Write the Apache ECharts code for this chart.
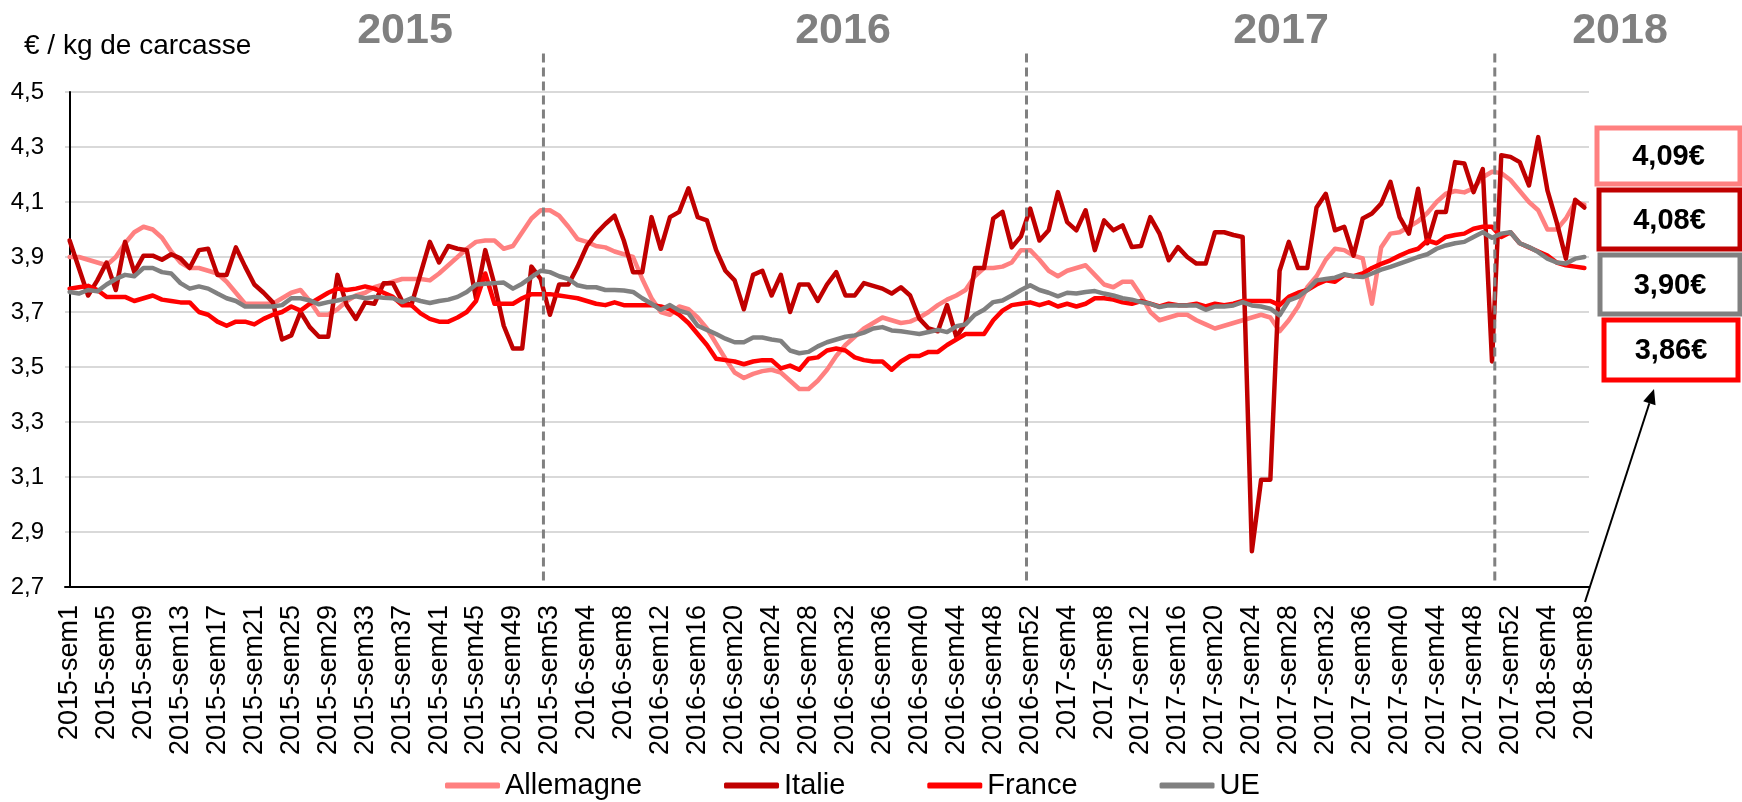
<!DOCTYPE html>
<html><head><meta charset="utf-8">
<script src="https://cdn.jsdelivr.net/npm/echarts/dist/echarts.min.js"></script>
<style>html,body{margin:0;padding:0;background:#fff}#c{width:1742px;height:802px}</style>
</head><body><div id="c"></div>
<script>
// ---- data ----
const yearWeeks = [[2015, 53], [2016, 52], [2017, 52], [2018, 8]];
const categories = [];
yearWeeks.forEach(([y, n]) => { for (let w = 1; w <= n; w++) categories.push(y + '-sem' + w); });

const seriesNames = ['Allemagne', 'Italie', 'France', 'UE'];
const seriesColors = ['#FF8080', '#C00000', '#FF0000', '#808080'];

const allemagne = [
3.90,3.90,3.89,3.88,3.87,3.90,3.95,3.99,4.01,4.00,
3.97,3.92,3.88,3.86,3.86,3.85,3.84,3.81,3.77,3.73,
3.73,3.73,3.73,3.75,3.77,3.78,3.74,3.69,3.69,3.71,
3.74,3.76,3.77,3.79,3.80,3.81,3.82,3.82,3.82,3.815,
3.84,3.87,3.90,3.93,3.955,3.96,3.96,3.93,3.94,3.99,
4.04,4.07,4.07,4.05,4.01,3.965,3.955,3.94,3.935,3.92,
3.91,3.90,3.82,3.75,3.70,3.69,3.72,3.71,3.68,3.64,
3.585,3.53,3.48,3.46,3.475,3.485,3.49,3.48,3.45,3.42,
3.42,3.45,3.49,3.54,3.58,3.61,3.64,3.66,3.68,3.67,
3.66,3.665,3.68,3.70,3.725,3.745,3.76,3.78,3.83,3.86,
3.86,3.865,3.88,3.925,3.925,3.89,3.85,3.83,3.85,3.86,
3.87,3.835,3.80,3.79,3.81,3.81,3.76,3.70,3.67,3.68,
3.69,3.69,3.67,3.655,3.64,3.65,3.66,3.67,3.68,3.69,
3.68,3.63,3.67,3.72,3.79,3.83,3.89,3.93,3.925,3.905,
3.895,3.73,3.935,3.985,3.99,4.01,4.03,4.06,4.10,4.13,
4.14,4.135,4.15,4.19,4.21,4.205,4.18,4.14,4.10,4.07,
4.00,4.00,4.04,4.10,4.09];

const italie = [
3.96,3.86,3.76,3.815,3.88,3.78,3.955,3.845,3.905,3.905,
3.89,3.91,3.895,3.86,3.925,3.93,3.835,3.835,3.935,3.865,
3.80,3.77,3.735,3.60,3.615,3.70,3.645,3.61,3.61,3.835,
3.725,3.675,3.735,3.73,3.805,3.805,3.74,3.725,3.84,3.955,
3.88,3.94,3.93,3.925,3.75,3.925,3.80,3.65,3.567,3.567,
3.865,3.82,3.69,3.80,3.80,3.865,3.94,3.985,4.02,4.05,
3.96,3.845,3.845,4.045,3.93,4.045,4.064,4.15,4.045,4.033,
3.925,3.85,3.815,3.71,3.835,3.85,3.76,3.835,3.70,3.80,
3.80,3.74,3.80,3.845,3.76,3.76,3.805,3.795,3.785,3.767,
3.79,3.76,3.676,3.64,3.63,3.725,3.61,3.66,3.86,3.86,
4.04,4.064,3.935,3.975,4.076,3.96,3.997,4.136,4.027,3.997,
4.07,3.925,4.033,3.997,4.015,3.936,3.94,4.045,3.985,3.888,
3.936,3.90,3.876,3.876,3.99,3.99,3.98,3.973,2.83,3.09,
3.09,3.85,3.955,3.86,3.86,4.08,4.13,3.997,4.01,3.905,
4.04,4.058,4.094,4.173,4.045,3.985,4.148,3.95,4.064,4.064,
4.245,4.24,4.136,4.22,3.52,4.27,4.264,4.245,4.16,4.336,
4.142,4.027,3.894,4.108,4.08];

const france = [
3.785,3.79,3.795,3.78,3.755,3.755,3.755,3.74,3.75,3.76,
3.745,3.74,3.735,3.735,3.70,3.69,3.665,3.65,3.665,3.665,
3.655,3.675,3.69,3.70,3.72,3.705,3.73,3.75,3.77,3.785,
3.78,3.785,3.793,3.785,3.77,3.755,3.725,3.725,3.695,3.675,
3.665,3.665,3.68,3.70,3.74,3.84,3.73,3.73,3.73,3.75,
3.765,3.765,3.765,3.76,3.755,3.75,3.74,3.73,3.725,3.735,
3.725,3.725,3.725,3.725,3.72,3.71,3.69,3.66,3.62,3.58,
3.53,3.525,3.52,3.51,3.52,3.525,3.525,3.495,3.505,3.49,
3.53,3.535,3.56,3.567,3.56,3.535,3.525,3.52,3.52,3.49,
3.52,3.54,3.54,3.555,3.555,3.58,3.60,3.62,3.62,3.62,
3.67,3.705,3.725,3.73,3.735,3.725,3.735,3.72,3.73,3.72,
3.73,3.75,3.75,3.745,3.735,3.73,3.74,3.73,3.72,3.73,
3.725,3.725,3.73,3.72,3.73,3.725,3.73,3.74,3.74,3.74,
3.74,3.725,3.755,3.77,3.78,3.80,3.815,3.81,3.835,3.83,
3.84,3.86,3.875,3.888,3.905,3.92,3.93,3.96,3.95,3.973,
3.98,3.985,4.003,4.01,4.01,3.973,3.99,3.95,3.935,3.92,
3.905,3.88,3.87,3.865,3.86];

const ue = [
3.773,3.767,3.78,3.775,3.80,3.82,3.835,3.83,3.86,3.86,
3.845,3.84,3.805,3.785,3.793,3.785,3.767,3.75,3.74,3.72,
3.72,3.72,3.72,3.725,3.75,3.75,3.742,3.728,3.736,3.742,
3.75,3.757,3.75,3.755,3.752,3.75,3.736,3.75,3.74,3.733,
3.74,3.745,3.755,3.773,3.80,3.803,3.805,3.807,3.785,3.803,
3.827,3.85,3.845,3.83,3.82,3.797,3.79,3.79,3.78,3.78,
3.778,3.773,3.75,3.73,3.708,3.725,3.705,3.695,3.65,3.635,
3.62,3.603,3.59,3.59,3.607,3.607,3.60,3.595,3.56,3.55,
3.555,3.575,3.59,3.60,3.61,3.615,3.625,3.64,3.645,3.633,
3.63,3.625,3.62,3.627,3.635,3.627,3.648,3.655,3.69,3.708,
3.736,3.742,3.76,3.78,3.797,3.78,3.77,3.757,3.77,3.767,
3.773,3.776,3.767,3.76,3.75,3.745,3.736,3.73,3.718,3.724,
3.724,3.724,3.724,3.708,3.72,3.72,3.724,3.736,3.724,3.72,
3.712,3.688,3.742,3.755,3.78,3.815,3.82,3.825,3.837,3.83,
3.827,3.84,3.854,3.864,3.876,3.888,3.90,3.91,3.93,3.942,
3.95,3.955,3.973,3.99,3.97,3.985,3.99,3.95,3.936,3.918,
3.894,3.88,3.876,3.894,3.90];

const yearTitles = ['2015', '2016', '2017', '2018'];
const yearBreaks = [51.3, 103.6, 154.3];          // positions (category index) of the dashed separators
const lastValueLabels = ['4,09€', '4,08€', '3,90€', '3,86€'];
const lastValueColors = ['#FF8080', '#C00000', '#808080', '#FF0000'];
const unitLabel = '€ / kg de carcasse';

// ---- chart ----
const FONT = '"Liberation Sans", Arial, sans-serif';
const chart = echarts.init(document.getElementById('c'), null, { renderer: 'canvas' });
const dataSets = [allemagne, italie, france, ue];

const option = {
  animation: false,
  backgroundColor: '#fff',
  grid: { left: 65, right: 153, top: 92, bottom: 215, containLabel: false, outerBoundsMode: 'none' },
  legend: {
    data: seriesNames,
    left: 440, top: 766,
    itemWidth: 55, itemHeight: 6, itemGap: 82,
    icon: 'roundRect',
    textStyle: { fontFamily: FONT, fontSize: 29, color: '#000' }
  },
  xAxis: [{
    type: 'category', data: categories, boundaryGap: true,
    axisLine: { show: true, lineStyle: { color: '#000', width: 2 } },
    axisTick: { show: false },
    splitLine: { show: false },
    axisLabel: { interval: 3, rotate: 90, margin: 18, fontFamily: FONT, fontSize: 27, color: '#000' }
  }, {
    type: 'value', min: -0.5, max: categories.length - 0.5, show: false
  }],
  yAxis: {
    type: 'value', min: 2.7, max: 4.5, interval: 0.2,
    axisLine: { show: true, lineStyle: { color: '#000', width: 2 } },
    axisTick: { show: false },
    splitLine: { show: true, lineStyle: { color: '#d9d9d9', width: 2 } },
    axisLabel: { margin: 21, fontFamily: FONT, fontSize: 24, color: '#000',
      formatter: v => v.toFixed(1).replace('.', ',') }
  },
  series: seriesNames.map((name, k) => ({
    name, type: 'line', data: dataSets[k], xAxisIndex: 0,
    showSymbol: false, symbol: 'none', smooth: false,
    color: seriesColors[k],
    lineStyle: { color: seriesColors[k], width: 4.5, join: 'round', cap: 'round' },
    itemStyle: { color: seriesColors[k] },
    emphasis: { disabled: true }
  }))
};
chart.setOption(option);

// ---- annotations (computed via the chart's own scales) ----
const graphics = [];
const yTop = chart.convertToPixel({ yAxisIndex: 0 }, 4.64);
const yBot = chart.convertToPixel({ yAxisIndex: 0 }, 2.718);
yearBreaks.forEach(b => {
  const x = chart.convertToPixel({ xAxisIndex: 1 }, b);
  graphics.push({ type: 'line', z: 10, shape: { x1: x, y1: yTop, x2: x, y2: yBot },
    style: { stroke: '#808080', lineWidth: 3, lineDash: [9, 5] } });
});
const titleX = [405, 843, 1281, 1620];
yearTitles.forEach((t, k) => {
  graphics.push({ type: 'text', x: titleX[k], y: 31, z: 10,
    style: { text: t, fill: '#808080', font: 'bold 43px ' + FONT,
      textAlign: 'center', textVerticalAlign: 'middle', align: 'center', verticalAlign: 'middle' } });
});
graphics.push({ type: 'text', x: 24, y: 46, z: 10,
  style: { text: unitLabel, fill: '#000', font: '28px ' + FONT,
    textAlign: 'left', textVerticalAlign: 'middle', align: 'left', verticalAlign: 'middle' } });

const boxes = [[1597, 128, 143, 56], [1599, 190, 141, 59], [1600, 255, 140, 59], [1604, 320, 134, 60]];
boxes.forEach((b, k) => {
  graphics.push({ type: 'rect', z: 10, shape: { x: b[0], y: b[1], width: b[2], height: b[3] },
    style: { fill: '#fff', stroke: lastValueColors[k], lineWidth: 5 } });
  graphics.push({ type: 'text', z: 11, x: b[0] + b[2] / 2, y: b[1] + b[3] / 2 + 1,
    style: { text: lastValueLabels[k], fill: '#000', font: 'bold 29px ' + FONT,
      textAlign: 'center', textVerticalAlign: 'middle', align: 'center', verticalAlign: 'middle' } });
});
// arrow from axis end to the France box
const ax1 = 1585, ay1 = 602, ax2 = 1654, ay2 = 389;
const dx = ax2 - ax1, dy = ay2 - ay1, len = Math.hypot(dx, dy), ux = dx / len, uy = dy / len;
const hl = 15, hw = 6.5;
const bx = ax2 - ux * hl, by = ay2 - uy * hl;
graphics.push({ type: 'line', z: 10, shape: { x1: ax1, y1: ay1, x2: bx, y2: by }, style: { stroke: '#000', lineWidth: 2 } });
graphics.push({ type: 'polygon', z: 10, shape: { points: [[ax2, ay2], [bx - uy * hw, by + ux * hw], [bx + uy * hw, by - ux * hw]] },
  style: { fill: '#000' } });

chart.setOption({ graphic: graphics });
</script>
</body></html>
